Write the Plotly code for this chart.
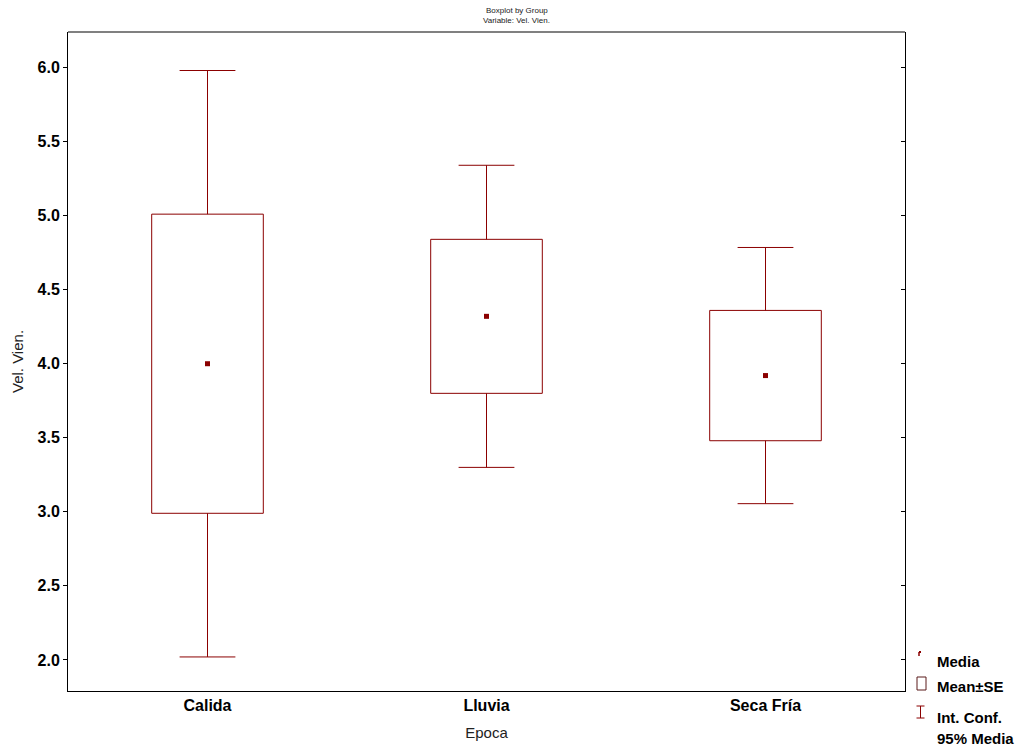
import plotly.graph_objects as go

categories = ["Calida", "Lluvia", "Seca Fría"]
means = [4.00, 4.32, 3.92]
se = [1.01, 0.52, 0.44]
ci95 = [1.98, 1.02, 0.865]

RED = "#8B0000"
L, R, T, B = 68, 905, 32, 691
W, H = 1033, 750

xs = list(range(len(categories)))
BOXW, CAPW = 0.4, 0.2
fig = go.Figure()

# Mean ± SE boxes
fig.add_trace(go.Bar(
    x=xs, y=[2 * s for s in se], base=[m - s for m, s in zip(means, se)],
    width=BOXW, marker=dict(color="white", line=dict(color=RED, width=1)),
    showlegend=False, hoverinfo="skip",
))

# 95% CI whiskers
wx, wy = [], []
for i, (m, s, c) in enumerate(zip(means, se, ci95)):
    wx += [xs[i], xs[i], None, xs[i], xs[i], None,
           xs[i] - CAPW / 2, xs[i] + CAPW / 2, None, xs[i] - CAPW / 2, xs[i] + CAPW / 2, None]
    wy += [m + s, m + c, None, m - s, m - c, None,
           m + c, m + c, None, m - c, m - c, None]
fig.add_trace(go.Scatter(x=wx, y=wy, mode="lines", line=dict(color=RED, width=1),
                         showlegend=False, hoverinfo="skip"))

fig.add_trace(go.Scatter(
    x=xs, y=means, mode="markers",
    marker=dict(symbol="square", size=5, color=RED),
    showlegend=False, hoverinfo="skip",
))

fig.add_trace(go.Scatter(x=[0], y=[4], yaxis="y2", mode="markers",
                         marker=dict(opacity=0), showlegend=False, hoverinfo="skip"))

font_family = "Liberation Sans, Arial, sans-serif"

def px(x):
    return (x - L) / (R - L)

def py(y):
    return (B - y) / (B - T)

shapes = [
    dict(type="line", xref="paper", yref="paper", x0=0, x1=1, y0=1, y1=1,
         line=dict(color="#808080", width=2)),
    dict(type="line", xref="paper", yref="paper", x0=px(919), x1=px(921), y0=py(652), y1=py(652),
         line=dict(color=RED, width=2)),
    dict(type="line", xref="paper", yref="paper", x0=px(919), x1=px(919), y0=py(652), y1=py(656),
         line=dict(color=RED, width=1.5)),
    dict(type="rect", xref="paper", yref="paper", x0=px(917), x1=px(926), y0=py(677), y1=py(690),
         line=dict(color="#5a1a1a", width=1), fillcolor="white"),
    dict(type="line", xref="paper", yref="paper", x0=px(920.5), x1=px(920.5), y0=py(706), y1=py(718),
         line=dict(color=RED, width=1)),
    dict(type="line", xref="paper", yref="paper", x0=px(916.5), x1=px(924.5), y0=py(706), y1=py(706),
         line=dict(color=RED, width=1)),
    dict(type="line", xref="paper", yref="paper", x0=px(916.5), x1=px(924.5), y0=py(718), y1=py(718),
         line=dict(color=RED, width=1)),
]

leg_font = dict(family=font_family, size=15, color="black")
annotations = []
for txt, yy in [("<b>Media</b>", 661), ("<b>Mean±SE</b>", 686),
                ("<b>Int. Conf.</b>", 717), ("<b>95% Media</b>", 738)]:
    annotations.append(dict(text=txt, xref="paper", yref="paper", x=px(935), y=py(yy),
                            xanchor="left", yanchor="middle", showarrow=False, font=leg_font))

title_font = dict(family=font_family, size=8, color="#222")
for txt, yy in [("Boxplot by Group", 10), ("Variable: Vel. Vien.", 20)]:
    annotations.append(dict(text=txt, xref="paper", yref="paper", x=px(W / 2), y=py(yy),
                            xanchor="center", yanchor="middle", showarrow=False, font=title_font))

ticks_y = [2.0, 2.5, 3.0, 3.5, 4.0, 4.5, 5.0, 5.5, 6.0]

fig.update_layout(
    width=W, height=H,
    paper_bgcolor="white", plot_bgcolor="white",
    margin=dict(l=L, r=W - R, t=T, b=H - B),
    xaxis=dict(range=[-0.5, 2.5], tickvals=xs, ticktext=[f"<b>{c}</b>" for c in categories],
               tickfont=dict(family=font_family, size=16, color="black"),
               title=dict(text="Epoca", font=dict(family=font_family, size=15, color="#222"),
                          standoff=14),
               showline=True, linecolor="black", linewidth=1, ticks="",
               showgrid=False, zeroline=False),
    yaxis=dict(range=[1.79, 6.24], tickvals=ticks_y,
               ticktext=[f"<b>{v:.1f}</b>" for v in ticks_y],
               tickfont=dict(family=font_family, size=16, color="black"),
               title=dict(text="Vel. Vien.", font=dict(family=font_family, size=15, color="#222"),
                          standoff=10),
               showline=True, linecolor="black", linewidth=1,
               ticks="outside", ticklen=4, tickcolor="black",
               showgrid=False, zeroline=False),
    yaxis2=dict(range=[1.79, 6.24], overlaying="y", side="right",
                tickvals=ticks_y,
                showticklabels=False, ticks="inside", ticklen=4, tickcolor="black",
                showline=True, linecolor="black", linewidth=1,
                showgrid=False, zeroline=False),
    shapes=shapes,
    annotations=annotations,
    showlegend=False,
)

fig.write_html("out.html", config={"displayModeBar": False},
               post_script="document.body.style.margin='0';document.body.style.overflow='hidden';")
